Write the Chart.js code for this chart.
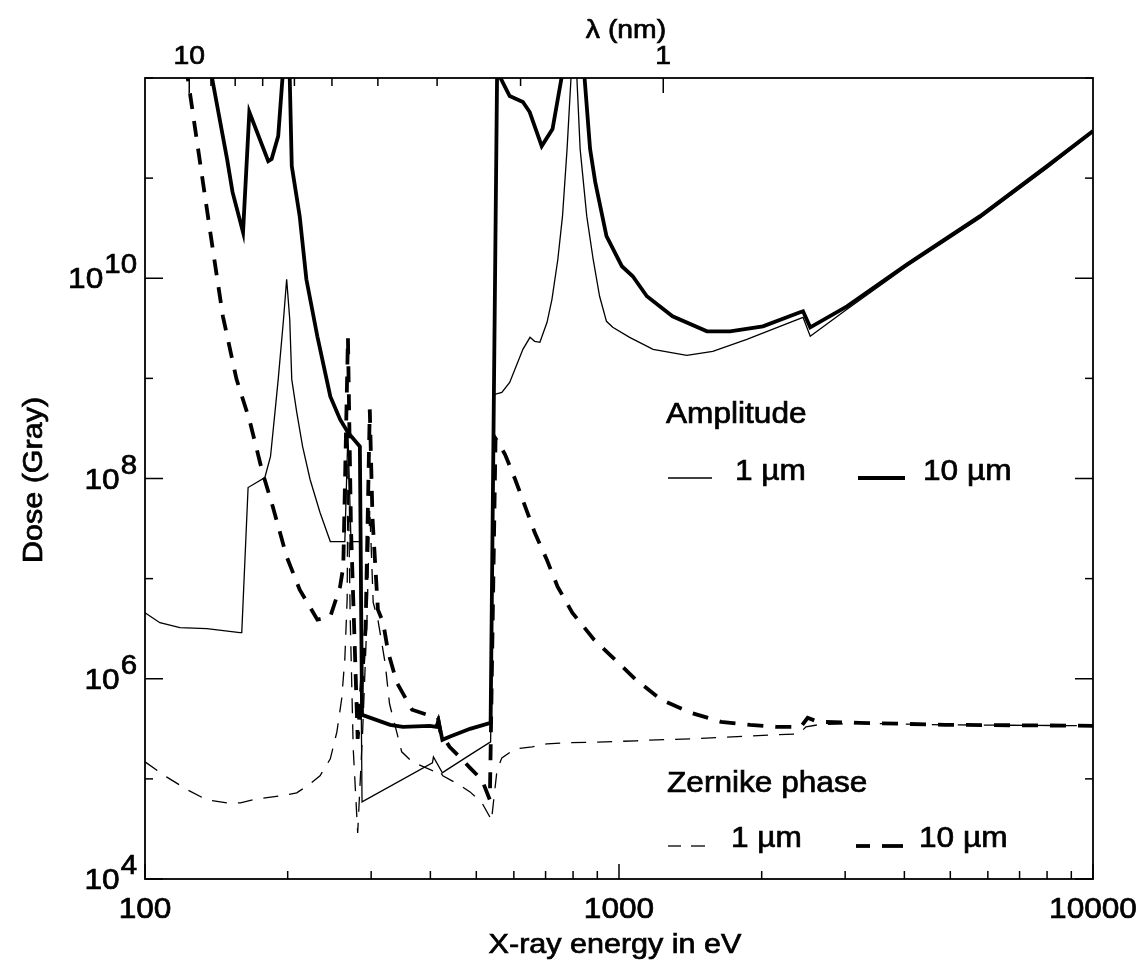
<!DOCTYPE html>
<html lang="en">
<head>
  <meta charset="UTF-8">
  <title>Dose vs X-ray energy</title>
  <style>
    body { margin: 0; background: #fff; }
    #wrap { width: 1141px; height: 961px; }
  </style>
  <script src="https://cdn.jsdelivr.net/npm/chart.js"></script>
</head>
<body>
<div id="wrap"><canvas id="doseChart" width="1141" height="961"></canvas></div>

<script>
  // --- data (energy in eV, dose as log10 of Gray) ---
  const amp1E = [100, 107.5, 118.5, 135, 158.6, 160, 165, 179, 184, 188, 191, 196, 199, 202, 204, 209, 215, 223, 234, 246, 264, 268, 272, 284, 287, 404, 406, 424, 433, 485, 536, 546, 566, 588, 627, 649, 664, 681, 705, 722, 743, 760, 777, 792, 803, 815, 828, 855, 882, 910, 941, 970, 1053, 1180, 1390, 1577, 1861, 2186, 2445, 2532, 3027, 4053, 5776, 7998, 10000];
  const amp1LogDose = [6.66, 6.56, 6.51, 6.50, 6.46, 6.46, 7.91, 8.01, 8.22, 8.66, 8.99, 9.59, 9.99, 9.59, 8.99, 8.66, 8.32, 7.99, 7.66, 7.37, 7.37, 8.46, 7.37, 7.37, 4.77, 5.16, 5.22, 5.06, 5.09, 5.24, 5.37, 8.84, 8.86, 8.96, 9.29, 9.41, 9.37, 9.36, 9.56, 9.79, 10.19, 10.62, 11.29, 12.0, 12.5, 12.0, 11.29, 10.62, 10.19, 9.82, 9.57, 9.51, 9.41, 9.29, 9.23, 9.27, 9.39, 9.52, 9.61, 9.42, 9.69, 10.12, 10.60, 11.10, 11.46];

  const amp10E = [131, 138.5, 149, 153, 161, 166, 182, 185, 191, 195, 199, 202, 204, 212, 219, 231, 246, 258, 268, 284, 287, 329, 350, 399, 412, 416, 424, 439, 485, 536, 553, 557, 561, 588, 627, 648, 687, 724, 757, 800, 846, 869, 891, 941, 1014, 1069, 1145, 1297, 1533, 1715, 2012, 2410, 2445, 2532, 3027, 4053, 5776, 7998, 10000];
  const amp10LogDose = [12.6, 12.0, 11.19, 10.86, 10.46, 11.66, 11.17, 11.19, 11.42, 12.0, 12.8, 12.0, 11.12, 10.62, 9.99, 9.42, 8.82, 8.59, 8.46, 8.32, 5.64, 5.54, 5.52, 5.53, 5.52, 5.58, 5.39, 5.42, 5.50, 5.56, 12.0, 12.2, 12.01, 11.82, 11.76, 11.66, 11.32, 11.49, 12.01, 12.8, 12.0, 11.29, 10.96, 10.42, 10.12, 10.02, 9.82, 9.62, 9.47, 9.47, 9.52, 9.66, 9.67, 9.51, 9.72, 10.14, 10.62, 11.12, 11.47];

  const zern1E = [100, 111, 123, 135, 149, 159, 172, 193, 209, 223, 234, 246, 254, 260, 264, 267, 268, 271, 275, 281, 288, 294, 298, 303, 310, 321, 328, 348, 366, 405, 415, 425, 457, 485, 514, 534, 538, 553, 566, 604, 656, 705, 765, 936, 1088, 1203, 1419, 2145, 2400, 2480, 2630, 3224, 4873, 10000];
  const zern1LogDose = [5.17, 5.02, 4.89, 4.79, 4.76, 4.76, 4.80, 4.83, 4.86, 4.95, 5.03, 5.20, 5.47, 5.80, 6.20, 6.80, 8.20, 6.60, 5.30, 4.46, 5.50, 6.60, 7.70, 6.76, 6.59, 6.16, 5.75, 5.27, 5.17, 5.08, 5.10, 5.03, 4.95, 4.87, 4.76, 4.62, 4.58, 5.09, 5.21, 5.30, 5.32, 5.35, 5.36, 5.37, 5.38, 5.39, 5.40, 5.44, 5.45, 5.52, 5.54, 5.555, 5.54, 5.53];

  const zern10E = [118, 123, 131, 139, 146, 156, 166, 177, 186, 199, 212, 231, 246, 258, 262, 268, 272, 281, 292, 298, 302, 310, 318, 326, 340, 366, 400, 415, 420, 439, 463, 485, 514, 534, 549, 556, 575, 604, 634, 664, 704, 742, 797, 886, 981, 1086, 1227, 1419, 1641, 1890, 2145, 2420, 2500, 2630, 3224, 4873, 10000];
  const zern10LogDose = [12.68, 12.01, 11.12, 10.29, 9.62, 8.99, 8.59, 8.06, 7.72, 7.22, 6.89, 6.59, 6.62, 6.92, 7.12, 9.41, 7.5, 5.4, 6.5, 8.69, 7.6, 6.69, 6.56, 6.26, 5.96, 5.69, 5.63, 5.61, 5.47, 5.32, 5.21, 5.11, 4.99, 4.79, 8.40, 8.36, 8.24, 7.99, 7.72, 7.46, 7.19, 6.92, 6.66, 6.39, 6.19, 5.99, 5.79, 5.66, 5.57, 5.54, 5.52, 5.52, 5.61, 5.57, 5.56, 5.54, 5.53];

  // axis ticks
  const energyTicks = [100, 200, 300, 400, 500, 600, 700, 800, 900, 1000, 2000, 3000, 4000, 5000, 6000, 7000, 8000, 9000, 10000];
  const energyLabels = [100, 1000, 10000];
  const doseExponents = [4, 5, 6, 7, 8, 9, 10, 11, 12];
  const doseLabelExponents = [4, 6, 8, 10];
  const lambdaTicks = [10, 9, 8, 7, 6, 5, 4, 3, 2, 1];
  const lambdaLabels = [10, 1];
  const HC = 1239.84; // eV nm

  const FONT = '"Liberation Sans", Arial, Helvetica, sans-serif';
  const STRETCH = 1.09;

  function toPoints(es, logs) {
    return es.map((e, i) => ({ x: e, y: Math.pow(10, logs[i]) }));
  }

  // text with the slightly wide, heavy look of the original lettering
  function text(ctx, str, x, y, size, align) {
    ctx.save();
    ctx.font = size + 'px ' + FONT;
    const w = ctx.measureText(str).width * STRETCH;
    let x0 = x;
    if (align === 'center') x0 = x - w / 2;
    if (align === 'right') x0 = x - w;
    ctx.translate(x0, y);
    ctx.scale(STRETCH, 1);
    ctx.textAlign = 'left';
    ctx.textBaseline = 'alphabetic';
    ctx.fillStyle = '#000';
    ctx.strokeStyle = '#000';
    ctx.lineWidth = 0.7;
    ctx.setLineDash([]);
    ctx.fillText(str, 0, 0);
    ctx.strokeText(str, 0, 0);
    ctx.restore();
    return w;
  }

  function seg(ctx, x1, y1, x2, y2) {
    ctx.beginPath();
    ctx.moveTo(x1, y1);
    ctx.lineTo(x2, y2);
    ctx.stroke();
  }

  const framePlugin = {
    id: 'frameAxes',
    afterDatasetsDraw(chart) {
      const { ctx, chartArea: a, scales } = chart;
      const xs = scales.x, ys = scales.y;
      ctx.save();
      ctx.strokeStyle = '#000';
      ctx.lineWidth = 1.8;
      ctx.strokeRect(a.left, a.top, a.right - a.left, a.bottom - a.top);

      ctx.lineWidth = 1.5;
      // bottom energy ticks (inward)
      energyTicks.forEach(v => {
        const px = xs.getPixelForValue(v);
        const len = energyLabels.includes(v) ? 15 : 8;
        seg(ctx, px, a.bottom, px, a.bottom - len);
      });
      energyLabels.forEach(v => {
        text(ctx, String(v), xs.getPixelForValue(v), 918, 29, 'center');
      });

      // top wavelength ticks
      lambdaTicks.forEach(l => {
        const px = xs.getPixelForValue(HC / l);
        const len = lambdaLabels.includes(l) ? 15 : 8;
        seg(ctx, px, a.top, px, a.top + len);
      });
      lambdaLabels.forEach(l => {
        text(ctx, String(l), xs.getPixelForValue(HC / l), 64, 26, 'center');
      });
      text(ctx, '\u03bb (nm)', 626, 38, 26, 'center');

      // left and right dose ticks
      doseExponents.forEach(p => {
        const py = ys.getPixelForValue(Math.pow(10, p));
        const len = doseLabelExponents.includes(p) ? 18 : 8;
        seg(ctx, a.left, py, a.left + len, py);
        seg(ctx, a.right, py, a.right - len, py);
      });
      doseLabelExponents.forEach(p => {
        const py = ys.getPixelForValue(Math.pow(10, p));
        ctx.font = '27px ' + FONT;
        const we = ctx.measureText(String(p)).width * STRETCH;
        ctx.font = '29px ' + FONT;
        const wb = ctx.measureText('10').width * STRETCH;
        const right = 137;
        text(ctx, '10', right - we - wb - 1, py + 10, 29, 'left');
        text(ctx, String(p), right - we, py - 5, 27, 'left');
      });

      // axis titles
      text(ctx, 'X-ray energy in eV', 615, 953, 28, 'center');
      ctx.save();
      ctx.translate(42, 480);
      ctx.rotate(-Math.PI / 2);
      text(ctx, 'Dose (Gray)', 0, 0, 28, 'center');
      ctx.restore();

      // in-plot legend
      text(ctx, 'Amplitude', 666, 423, 29, 'left');
      ctx.lineWidth = 1.3;
      seg(ctx, 668, 478, 712, 478);
      text(ctx, '1 \u00b5m', 735, 480, 29, 'left');
      ctx.lineWidth = 3.8;
      seg(ctx, 858, 478, 905, 478);
      text(ctx, '10 \u00b5m', 923, 480, 29, 'left');

      text(ctx, 'Zernike phase', 667, 792, 29, 'left');
      ctx.lineWidth = 1.3;
      seg(ctx, 668, 846, 681, 846);
      seg(ctx, 691, 846, 705, 846);
      text(ctx, '1 \u00b5m', 731, 847, 29, 'left');
      ctx.lineWidth = 3.8;
      seg(ctx, 856, 846, 870, 846);
      seg(ctx, 882, 846, 903, 846);
      text(ctx, '10 \u00b5m', 919, 847, 29, 'left');
      ctx.restore();
    }
  };

  const lineBase = { showLine: true, pointRadius: 0, borderColor: '#000', tension: 0, clip: 0, fill: false };

  new Chart(document.getElementById('doseChart'), {
    type: 'scatter',
    data: {
      datasets: [
        Object.assign({ label: 'Amplitude 1 \u00b5m', data: toPoints(amp1E, amp1LogDose), borderWidth: 1.3 }, lineBase),
        Object.assign({ label: 'Amplitude 10 \u00b5m', data: toPoints(amp10E, amp10LogDose), borderWidth: 3.8 }, lineBase),
        Object.assign({ label: 'Zernike phase 1 \u00b5m', data: toPoints(zern1E, zern1LogDose), borderWidth: 1.3, borderDash: [15, 11] }, lineBase),
        Object.assign({ label: 'Zernike phase 10 \u00b5m', data: toPoints(zern10E, zern10LogDose), borderWidth: 3.8, borderDash: [16, 12] }, lineBase)
      ]
    },
    options: {
      responsive: false,
      animation: false,
      layout: { padding: { left: 145, right: 48, top: 78, bottom: 82 } },
      plugins: { legend: { display: false }, tooltip: { enabled: false } },
      scales: {
        x: { type: 'logarithmic', min: 100, max: 10000, display: false },
        y: { type: 'logarithmic', min: 1e4, max: 1e12, display: false }
      }
    },
    plugins: [framePlugin]
  });
</script>
</body>
</html>
